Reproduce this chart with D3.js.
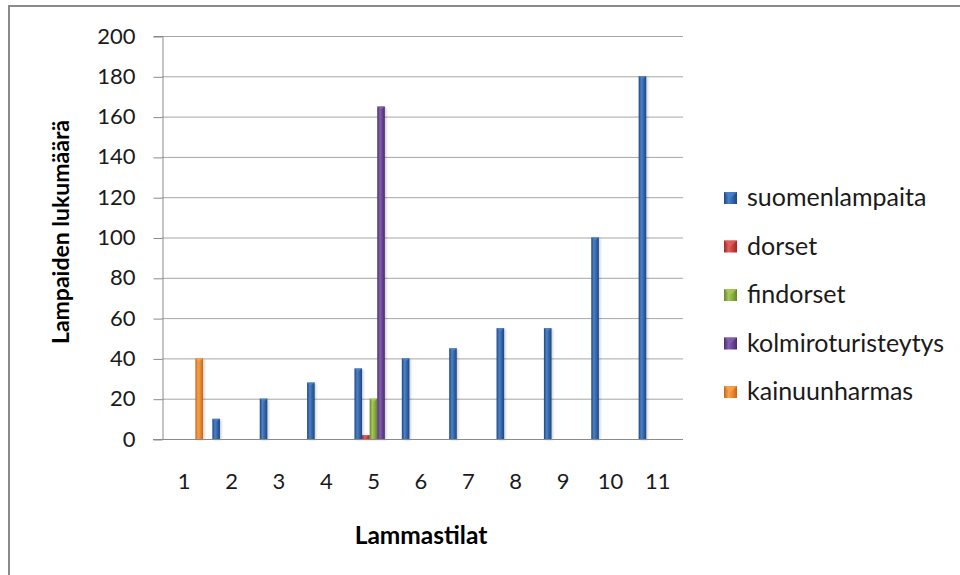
<!DOCTYPE html>
<html>
<head>
<meta charset="utf-8">
<script src="https://cdn.jsdelivr.net/npm/d3@7"></script>
<style>
  html, body { margin: 0; padding: 0; background: #fff; }
  svg { display: block; font-family: Lato, "Open Sans", sans-serif; }
</style>
</head>
<body>
<svg id="chart" width="960" height="575"></svg>
<script>
// Farms (x categories) and sheep breeds (series)
const categories = ["1", "2", "3", "4", "5", "6", "7", "8", "9", "10", "11"];
const seriesNames = ["suomenlampaita", "dorset", "findorset", "kolmiroturisteytys", "kainuunharmas"];
const suomenlampaita     = [0, 10, 20, 28, 35, 40, 45, 55, 55, 100, 180];
const dorset             = [0, 0, 0, 0, 2, 0, 0, 0, 0, 0, 0];
const findorset          = [0, 0, 0, 0, 20, 0, 0, 0, 0, 0, 0];
const kolmiroturisteytys = [0, 0, 0, 0, 165, 0, 0, 0, 0, 0, 0];
const kainuunharmas      = [40, 0, 0, 0, 0, 0, 0, 0, 0, 0, 0];
const yTicks = [0, 20, 40, 60, 80, 100, 120, 140, 160, 180, 200];
const yTitle = "Lampaiden lukumäärä";
const xTitle = "Lammastilat";

const seriesValues = [suomenlampaita, dorset, findorset, kolmiroturisteytys, kainuunharmas];
// base, light and dark tones for the bevelled bars
const palette = [
  { base: "#2f62a3", light: "#4a82c8", dark: "#1f4580" },
  { base: "#c43c3a", light: "#e0605c", dark: "#9a2a28" },
  { base: "#86a83c", light: "#a6c85a", dark: "#66852a" },
  { base: "#66418f", light: "#8560ad", dark: "#4a2d6d" },
  { base: "#e8832a", light: "#f7a24e", dark: "#c0661a" }
];

const svg = d3.select("#chart");
const defs = svg.append("defs");

palette.forEach((c, i) => {
  const g = defs.append("linearGradient").attr("id", "bar" + i)
    .attr("x1", "0%").attr("x2", "100%").attr("y1", "0%").attr("y2", "0%");
  g.append("stop").attr("offset", "0%").attr("stop-color", c.dark);
  g.append("stop").attr("offset", "35%").attr("stop-color", c.light);
  g.append("stop").attr("offset", "70%").attr("stop-color", c.base);
  g.append("stop").attr("offset", "100%").attr("stop-color", c.dark);
});
const blur = defs.append("filter").attr("id", "shadow")
  .attr("x", "-50%").attr("y", "-10%").attr("width", "200%").attr("height", "120%");
blur.append("feGaussianBlur").attr("stdDeviation", 1.2);

// outer chart frame
svg.append("rect")
  .attr("x", 9).attr("y", 6).attr("width", 1000).attr("height", 700)
  .attr("fill", "none").attr("stroke", "#8a8a8a").attr("stroke-width", 2);

const plot = { left: 162, right: 683, top: 36, bottom: 439 };

const y = d3.scaleLinear().domain([0, 200]).range([plot.bottom, plot.top]);
const x0 = d3.scaleBand().domain(categories).range([plot.left, plot.right]).padding(0);
const x1 = d3.scaleBand().domain(seriesNames).range([3.0, 41.0]).padding(0);

// gridlines
svg.append("g")
  .selectAll("line").data(yTicks.filter(d => d > 0)).join("line")
  .attr("x1", plot.left).attr("x2", plot.right)
  .attr("y1", d => y(d) + 0.5).attr("y2", d => y(d) + 0.5)
  .attr("stroke", "#a6a6a6").attr("stroke-width", 1);

// y axis
const yAxis = svg.append("g")
  .attr("transform", `translate(${plot.left + 0.5},0)`)
  .call(d3.axisLeft(y).tickValues(yTicks).tickSize(9).tickPadding(18).tickFormat(d3.format("d")));
yAxis.select(".domain").attr("stroke", "#8a8a8a");
yAxis.selectAll(".tick line").attr("stroke", "#8a8a8a").attr("transform", "translate(0,0.5)");
yAxis.selectAll(".tick text")
  .attr("font-family", "Lato, sans-serif").attr("font-size", 22).attr("fill", "#1a1a1a");

// bars
const groups = svg.append("g").selectAll("g")
  .data(categories).join("g")
  .attr("transform", d => `translate(${x0(d)},0)`);

groups.each(function (cat, ci) {
  const g = d3.select(this);
  seriesNames.forEach((name, si) => {
    const v = seriesValues[si][ci];
    if (!v) return;
    const bx = x1(name), bw = x1.bandwidth();
    const top = y(v), h = y(0) - y(v);
    // soft shadow
    g.append("rect")
      .attr("x", bx + 1.5).attr("y", top + 1).attr("width", bw).attr("height", h)
      .attr("fill", "#000").attr("opacity", 0.18).attr("filter", "url(#shadow)");
    g.append("rect")
      .attr("x", bx).attr("y", top).attr("width", bw).attr("height", h)
      .attr("fill", `url(#bar${si})`);
    // bevelled top cap
    const cap = Math.min(3, h / 2);
    g.append("path")
      .attr("d", `M${bx},${top} L${bx + bw},${top} L${bx + bw / 2},${top + cap} Z`)
      .attr("fill", palette[si].light).attr("opacity", 0.9);
  });
});

// x axis baseline
svg.append("line")
  .attr("x1", plot.left - 9).attr("x2", plot.right)
  .attr("y1", plot.bottom + 0.5).attr("y2", plot.bottom + 0.5)
  .attr("stroke", "#8a8a8a");

// x tick labels
svg.append("g").selectAll("text").data(categories).join("text")
  .attr("x", d => x0(d) + x0.bandwidth() / 2 - 1.5)
  .attr("y", 481)
  .attr("dy", "0.35em")
  .attr("text-anchor", "middle")
  .attr("font-size", 22).attr("fill", "#1a1a1a")
  .text(d => d);

// axis titles
svg.append("text")
  .attr("x", 421).attr("y", 535).attr("dy", "0.35em")
  .attr("text-anchor", "middle").attr("font-size", 24.5).attr("font-weight", "bold")
  .attr("fill", "#000").text(xTitle);

svg.append("text")
  .attr("transform", "translate(61,232) rotate(-90)")
  .attr("dy", "0.35em")
  .attr("text-anchor", "middle").attr("font-size", 23).attr("font-weight", "bold")
  .attr("fill", "#000").text(yTitle);

// legend
const legend = svg.append("g").attr("transform", "translate(724,198)");
const items = legend.selectAll("g").data(seriesNames).join("g")
  .attr("transform", (d, i) => `translate(0,${i * 48.5})`);
items.append("rect")
  .attr("x", 0).attr("y", -6).attr("width", 13).attr("height", 12)
  .attr("fill", (d, i) => `url(#bar${i})`);
items.append("path")
  .attr("d", "M0,-6 L13,-6 L6.5,0 Z")
  .attr("fill", (d, i) => palette[i].light).attr("opacity", 0.8);
items.append("text")
  .attr("x", 23).attr("y", 0).attr("dy", "0.32em")
  .attr("font-size", 25).attr("fill", "#1a1a1a")
  .text(d => d);
</script>
</body>
</html>
